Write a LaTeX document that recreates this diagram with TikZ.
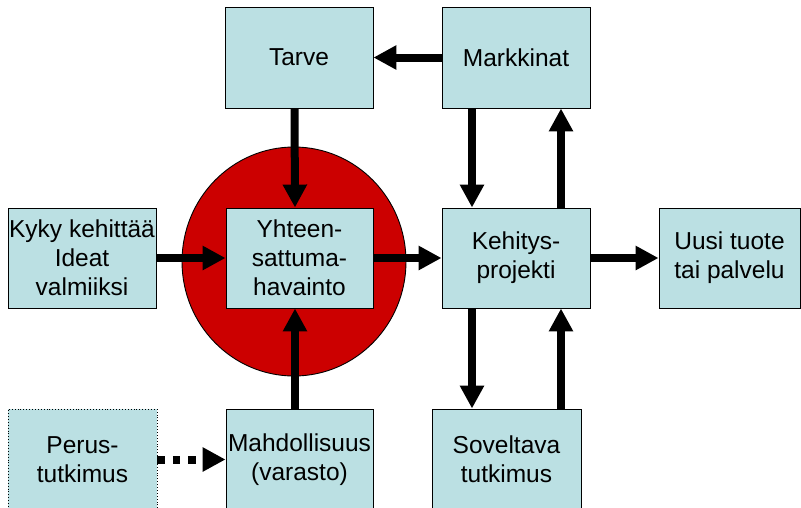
\documentclass[tikz,border=0pt]{standalone}
\usepackage{fontspec}
\setmainfont{Liberation Sans}
\usetikzlibrary{arrows.meta,calc}
\definecolor{boxfill}{HTML}{BBE0E3}
\definecolor{circred}{HTML}{CC0000}
\begin{document}
\begin{tikzpicture}[x=1pt,y=-1pt,
  box/.style={draw=black, line width=0.9pt, fill=boxfill, inner sep=0pt, align=center,
    font=\fontsize{24.5}{29}\selectfont},
  arr/.style={line width=8pt, -{Triangle[length=23pt,width=23pt]}},
  dotarr/.style={line width=8pt, dash pattern=on 7.5pt off 8pt, -{Triangle[length=23pt,width=23pt]}}
]
\useasboundingbox (0,0) rectangle (801,507);
\draw[fill=circred, line width=0.9pt] (294,261.5) ellipse [x radius=112, y radius=114.5];
\node[box, minimum width=148pt, minimum height=101pt] (T) at (299,57.5) {Tarve};
\node[box, minimum width=148pt, minimum height=101pt] (M) at (516,57.5) {Markkinat};
\node[box, minimum width=148pt, minimum height=100pt] (Ky) at (82,258) {Kyky kehittää\\Ideat\\valmiiksi};
\node[box, minimum width=147pt, minimum height=100pt] (Y) at (299.5,258) {Yhteen-\\sattuma-\\havainto};
\node[box, minimum width=148pt, minimum height=100pt] (K) at (516,258) {Kehitys-\\projekti};
\node[box, minimum width=141pt, minimum height=100pt] (U) at (729.5,258) {Uusi tuote\\tai palvelu};
\node[box, minimum width=149pt, minimum height=101pt, dotted] (P) at (82.5,459.5) {Perus-\\tutkimus};
\node[box, minimum width=147pt, minimum height=101pt] (Mh) at (299.5,459.5) {Mahdollisuus\\(varasto)};
\node[box, minimum width=149pt, minimum height=101pt] (S) at (506.5,459.5) {Soveltava\\tutkimus};

\draw[arr] (M.west) -- (T.east);
\draw[arr] ([xshift=-4.5pt]T.south) -- ([xshift=-4.5pt]Y.north);
\draw[arr] (Ky.east) -- (Y.west);
\draw[arr] (Y.east) -- (K.west);
\draw[arr] (K.east) -- (U.west);
\draw[arr] ([xshift=-44pt]M.south) -- ([xshift=-44pt]K.north);
\draw[arr] ([xshift=45pt]K.north) -- ([xshift=45pt]M.south);
\draw[arr] ([xshift=-44pt]K.south) -- ([xshift=-44pt]K.south |- S.north);
\draw[arr] ([xshift=45pt]K.south |- S.north) -- ([xshift=45pt]K.south);
\draw[arr] ([xshift=-4.5pt]Mh.north) -- ([xshift=-4.5pt]Y.south);
\draw[dotarr] (P.east) -- (Mh.west);
\end{tikzpicture}
\end{document}
